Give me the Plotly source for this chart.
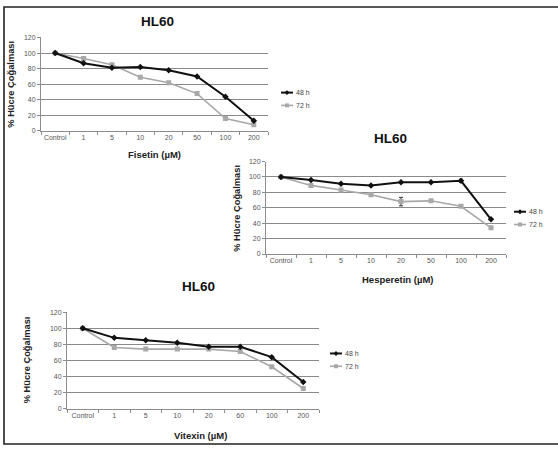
import plotly.graph_objects as go

# ---------------- data ----------------
cat_fis = ["Control", "1", "5", "10", "20", "50", "100", "200"]
fis_48 = [100, 87, 81, 82, 78, 70, 44, 13]
fis_72 = [100, 93, 85, 69, 62, 48, 16, 8]

cat_hes = ["Control", "1", "5", "10", "20", "50", "100", "200"]
hes_48 = [100, 96, 91, 89, 93, 93, 95, 45]
hes_72 = [100, 89, 83, 77, 68, 69, 62, 34]
hes_48_err = [0, 0, 0, 0, 0, 0, 2, 0]
hes_72_err = [0, 0, 0, 0, 5.5, 0, 0, 0]

cat_vit = ["Control", "1", "5", "10", "20", "60", "100", "200"]
vit_48 = [100, 88, 85, 82, 77, 77, 64, 33]
vit_72 = [100, 76, 74, 74, 74, 71, 52, 25]

series_names = ["48 h", "72 h"]
y_ticks = [0, 20, 40, 60, 80, 100, 120]
chart_title = "HL60"
y_title = "% Hücre Çoğalması"
x_titles = ["Fisetin (µM)", "Hesperetin (µM)", "Vitexin (µM)"]

# ---------------- layout helpers ----------------
W, H = 558, 449
FONT = "Arial, Liberation Sans, sans-serif"


def fx(px):
    return px / W


def fy(py):
    return 1 - py / H


C48 = "#111111"
C72 = "#a8a8a8"

fig = go.Figure()

panels = [
    ("x", "y", cat_fis, fis_48, fis_72, None, None, 41, 268, 34, 129),
    ("x2", "y2", cat_hes, hes_48, hes_72, hes_48_err, hes_72_err, 266, 506, 160, 254),
    ("x3", "y3", cat_vit, vit_48, vit_72, None, None, 67, 319, 313, 411),
]

for xa, ya, cats, s48, s72, e48, e72, *_ in panels:
    fig.add_trace(go.Scatter(
        x=cats, y=s72, xaxis=xa, yaxis=ya, name=series_names[1], mode="lines+markers",
        line=dict(color=C72, width=1.6), marker=dict(symbol="square", size=5, color=C72),
        error_y=dict(type="data", array=e72, visible=e72 is not None, color="#333333",
                     thickness=1, width=2),
        showlegend=False))
    fig.add_trace(go.Scatter(
        x=cats, y=s48, xaxis=xa, yaxis=ya, name=series_names[0], mode="lines+markers",
        line=dict(color=C48, width=2), marker=dict(symbol="diamond", size=5, color=C48),
        error_y=dict(type="data", array=e48, visible=e48 is not None, color="#333333",
                     thickness=1, width=2),
        showlegend=False))

layout = dict(
    width=W, height=H, margin=dict(l=0, r=0, t=0, b=0),
    paper_bgcolor="white", plot_bgcolor="white",
    font=dict(family=FONT, size=7, color="#555555"),
    showlegend=False,
)

annotations = []
shapes = []
suffix = ["", "2", "3"]
title_pos = [(157, 18), (390, 137), (198, 287)]
xtitle_pos = [(154, 153), (397, 280), (200, 438)]
ytitle_pos = [(11, 82), (237, 208), (27, 362)]
legend_pos = [(281, 90), (514, 211), (330, 355)]

for i, (xa, ya, cats, s48, s72, e48, e72, x0, x1, yt, yb) in enumerate(panels):
    s = suffix[i]
    layout["xaxis" + s] = dict(
        domain=[fx(x0), fx(x1)], anchor="y" + s, type="category",
        range=[-0.5, len(cats) - 0.5], showgrid=False, zeroline=False,
        showline=True, linecolor="#8c8c8c", linewidth=1,
        ticks="outside", ticklen=3, tickcolor="#8c8c8c", tickson="boundaries",
        tickangle=0,
        tickfont=dict(size=7, color="#555555", family=FONT), fixedrange=True,
    )
    layout["yaxis" + s] = dict(
        domain=[fy(yb), fy(yt)], anchor="x" + s, range=[0, 120],
        tickvals=y_ticks, showgrid=True, gridcolor="#8a8a8a", gridwidth=1,
        zeroline=False, showline=True, linecolor="#8c8c8c", linewidth=1,
        ticks="outside", ticklen=3, tickcolor="#8c8c8c",
        tickfont=dict(size=7, color="#555555", family=FONT), fixedrange=True,
    )
    tx, ty = title_pos[i]
    annotations.append(dict(text="<b>%s</b>" % chart_title, x=fx(tx), y=fy(ty),
                            xref="paper", yref="paper", showarrow=False,
                            font=dict(size=13.5, color="#111111", family=FONT),
                            xanchor="center", yanchor="middle"))
    ax_, ay_ = xtitle_pos[i]
    annotations.append(dict(text="<b>%s</b>" % x_titles[i], x=fx(ax_), y=fy(ay_),
                            xref="paper", yref="paper", showarrow=False,
                            font=dict(size=9.5, color="#222222", family=FONT),
                            xanchor="center", yanchor="middle"))
    yx, yy = ytitle_pos[i]
    annotations.append(dict(text="<b>%s</b>" % y_title, x=fx(yx), y=fy(yy),
                            xref="paper", yref="paper", showarrow=False, textangle=-90,
                            font=dict(size=9.3, color="#222222", family=FONT),
                            xanchor="center", yanchor="middle"))
    lx, ly = legend_pos[i]
    for k, (name, col, sym) in enumerate([(series_names[0], C48, "d"), (series_names[1], C72, "s")]):
        yy_ = ly + 13 * k
        shapes.append(dict(type="line", xref="paper", yref="paper",
                           x0=fx(lx), x1=fx(lx + 12), y0=fy(yy_), y1=fy(yy_),
                           line=dict(color=col, width=2 if k == 0 else 1.6)))
        cx = lx + 6
        if sym == "d":
            path = "M %f %f L %f %f L %f %f L %f %f Z" % (
                fx(cx - 2.5), fy(yy_), fx(cx), fy(yy_ - 2.5), fx(cx + 2.5), fy(yy_), fx(cx), fy(yy_ + 2.5))
            shapes.append(dict(type="path", xref="paper", yref="paper", path=path,
                               fillcolor=col, line=dict(color=col, width=0)))
        else:
            shapes.append(dict(type="rect", xref="paper", yref="paper",
                               x0=fx(cx - 2), x1=fx(cx + 2), y0=fy(yy_ + 2), y1=fy(yy_ - 2),
                               fillcolor=col, line=dict(color=col, width=0)))
        annotations.append(dict(text=name, x=fx(lx + 13), y=fy(yy_), xref="paper", yref="paper",
                                showarrow=False, xanchor="left", yanchor="middle",
                                font=dict(size=7, color="#444444", family=FONT)))

shapes.append(dict(type="rect", xref="paper", yref="paper",
                   x0=fx(4), x1=1.02, y0=fy(447), y1=fy(3),
                   line=dict(color="#222222", width=1.6), fillcolor="rgba(0,0,0,0)"))

layout["annotations"] = annotations
layout["shapes"] = shapes
fig.update_layout(**layout)

fig.write_html("out.html")
